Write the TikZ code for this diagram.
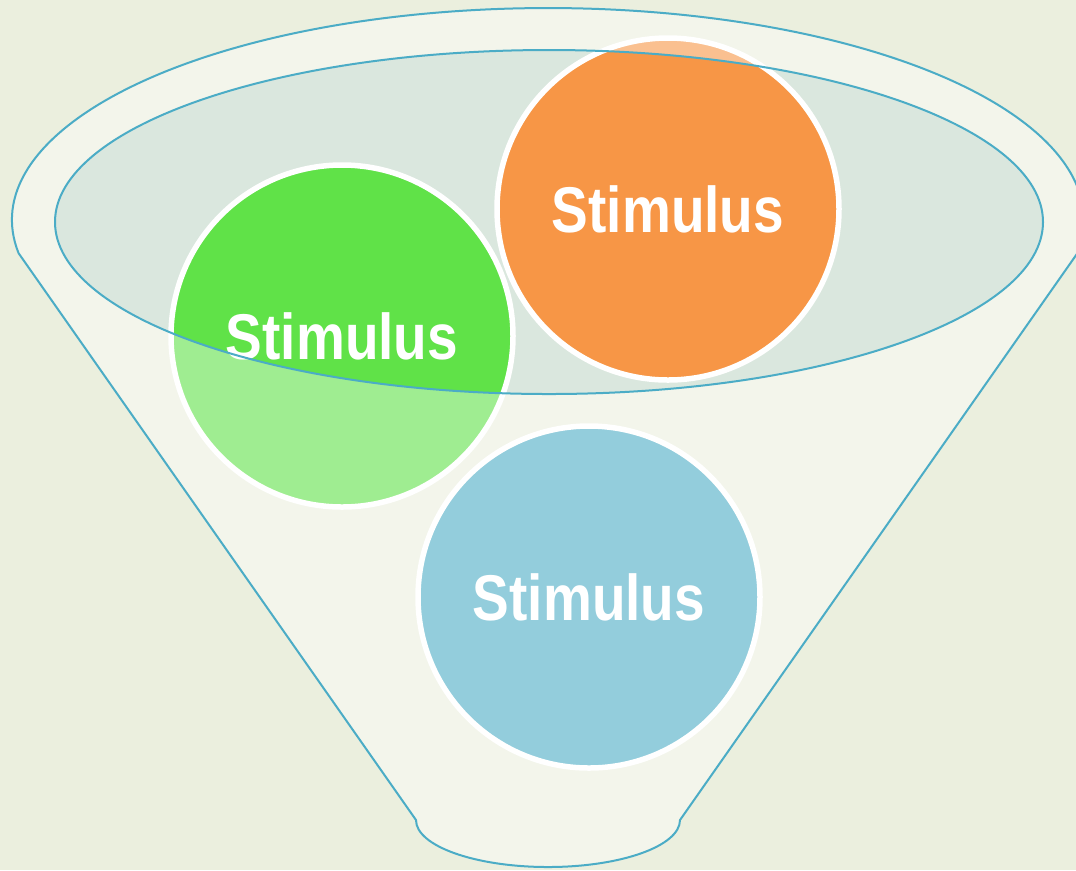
\documentclass[tikz,border=0pt]{standalone}
\usepackage{fontspec}
\setmainfont{Liberation Sans}
\newfontfamily\stimfont[FakeStretch=0.85]{Liberation Sans}
\usepackage{tikz}
\usetikzlibrary{shapes}
\usetikzlibrary{positioning}
\definecolor{fond}{RGB}{235,239,222}
\definecolor{bord}{RGB}{75,172,198}
\definecolor{bol}{RGB}{218,231,222}
\definecolor{stimvert}{RGB}{96,226,72}
\definecolor{stimorange}{RGB}{247,150,70}
\definecolor{stimbleu}{RGB}{75,172,198}
\tikzstyle{bulle}=[
        circle,
        draw=white,
        line width=0.55mm,
        minimum size=34.2mm,
        inner sep=0pt,
        text=white,
        font=\stimfont\bfseries\fontsize{18.4}{20}\selectfont
]
\tikzstyle{trait}=[draw=bord,line width=0.2mm]
\tikzstyle{voile}=[fill=white,fill opacity=0.4,even odd rule]
\newcommand{\entonnoir}{(18.6,253.2) arc[start angle=171,end angle=369,x radius=536,y radius=212]
  -- (680,820) arc[start angle=0,end angle=180,x radius=132,y radius=47] -- cycle}
\newcommand{\bol}{(549,222) ellipse[x radius=494,y radius=172]}

\begin{document}
\begin{tikzpicture}[x=0.1mm,y=-0.1mm]
\clip (0,0) rectangle (1076,870);
\fill[fond] (0,0) rectangle (1076,870);
\fill[bol] \bol;
\node[bulle,fill=stimvert] (vert) at (342,336) {Stimulus};
\node[bulle,fill=stimorange] (orange) at (668,209) {Stimulus};
\node[bulle,fill=stimbleu] (bleu) at (589,597) {Stimulus};
%voile et contours
\path[voile] \entonnoir \bol;
\draw[trait] \entonnoir;
\draw[trait] \bol;
\end{tikzpicture}
\end{document}
